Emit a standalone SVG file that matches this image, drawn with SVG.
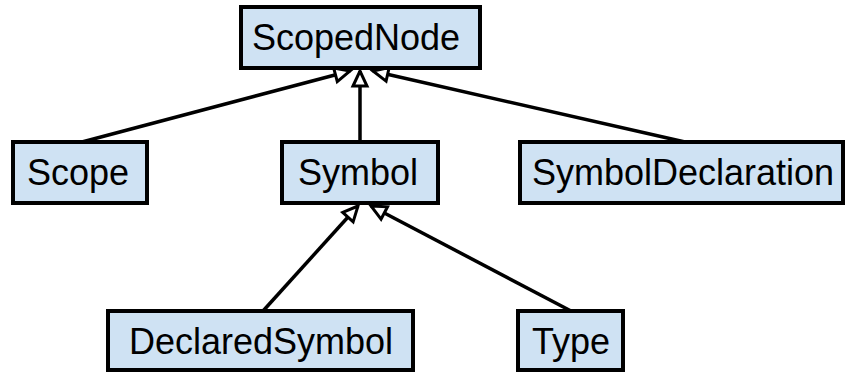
<svg xmlns="http://www.w3.org/2000/svg" width="845" height="372" viewBox="0 0 845 372">
<style>
.box{fill:#cfe2f3;stroke:#000;stroke-width:4}
.lbl{font-family:"Liberation Sans",Arial,sans-serif;font-size:36px;fill:#000;text-anchor:middle}
.edge{stroke:#000;stroke-width:3.5;fill:none;marker-end:url(#tri)}
</style>
<defs>
<marker id="tri" markerUnits="userSpaceOnUse" markerWidth="22" markerHeight="20" viewBox="-3 -3 22 20" refX="15" refY="7" orient="auto">
<path d="M0,0 L15,7 L0,14 z" fill="#fff" stroke="#000" stroke-width="3" stroke-linejoin="miter"/>
</marker>
</defs>
<g id="connectors">
<line class="edge" x1="82" y1="142" x2="350" y2="71"/>
<line class="edge" x1="360" y1="142" x2="360" y2="71"/>
<line class="edge" x1="685" y1="142" x2="373" y2="71"/>
<line class="edge" x1="263" y1="311" x2="358" y2="206"/>
<line class="edge" x1="571" y1="311" x2="371" y2="206"/>
</g>
<g id="ScopedNode">
<rect class="box" x="241" y="7" width="239" height="61"/>
<text class="lbl" x="356" y="50">ScopedNode</text>
</g>
<g id="Scope">
<rect class="box" x="13" y="142" width="134" height="61"/>
<text class="lbl" x="78" y="185">Scope</text>
</g>
<g id="Symbol">
<rect class="box" x="282" y="142" width="156" height="61"/>
<text class="lbl" x="358" y="185">Symbol</text>
</g>
<g id="SymbolDeclaration">
<rect class="box" x="520" y="142" width="323" height="61"/>
<text class="lbl" x="683" y="185">SymbolDeclaration</text>
</g>
<g id="DeclaredSymbol">
<rect class="box" x="108" y="311" width="305" height="59"/>
<text class="lbl" x="261" y="354">DeclaredSymbol</text>
</g>
<g id="Type">
<rect class="box" x="518" y="311" width="105" height="59"/>
<text class="lbl" x="571" y="354">Type</text>
</g>
</svg>
